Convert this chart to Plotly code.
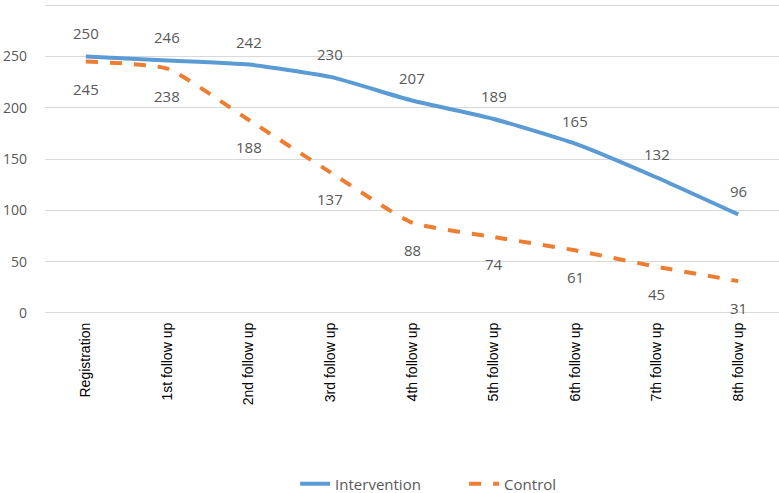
import plotly.graph_objects as go

categories = ["Registration", "1st follow up", "2nd follow up", "3rd follow up",
              "4th follow up", "5th follow up", "6th follow up", "7th follow up",
              "8th follow up"]
intervention = [250, 246, 242, 230, 207, 189, 165, 132, 96]
control = [245, 238, 188, 137, 88, 74, 61, 45, 31]
y_ticks = [0, 50, 100, 150, 200, 250, 300]

BLUE = "#5B9BD5"
ORANGE = "#ED7D31"
TXT = "#595959"
LBL_FONT = "Open Sans"

fig = go.Figure()
fig.add_trace(go.Scatter(
    x=categories, y=intervention, name="Intervention", mode="lines",
    line=dict(color=BLUE, width=4, shape="spline", smoothing=0.5),
))
fig.add_trace(go.Scatter(
    x=categories, y=control, name="Control", mode="lines",
    line=dict(color=ORANGE, width=4, dash="dash", shape="spline", smoothing=0.5),
))

# data labels: intervention above, control below
annots = []
for c, v in zip(categories, intervention):
    annots.append(dict(x=c, y=v, text=str(v), showarrow=False, yshift=23,
                       font=dict(family=LBL_FONT, size=15, color=TXT)))
for c, v in zip(categories, control):
    annots.append(dict(x=c, y=v, text=str(v), showarrow=False, yshift=-27,
                       font=dict(family=LBL_FONT, size=15, color=TXT)))

fig.update_layout(
    width=779, height=493,
    margin=dict(l=45, r=0, t=2, b=177, autoexpand=False),
    plot_bgcolor="white", paper_bgcolor="white",
    annotations=annots,
    showlegend=True,
    legend=dict(orientation="h", x=0.571, xanchor="center", y=-0.535, yanchor="middle",
                entrywidth=124,
                font=dict(family=LBL_FONT, size=15, color=TXT)),
    xaxis=dict(
        type="category", range=[-0.5, 8.5], tickangle=-90, showgrid=False,
        showline=False, zeroline=False, ticks="", ticklabelstandoff=3,
        tickfont=dict(family="Liberation Sans", size=14, color="black"),
    ),
    yaxis=dict(
        range=[-3, 303], tickvals=y_ticks, showgrid=True, gridcolor="#D9D9D9",
        gridwidth=1, zeroline=False, showline=False, ticks="",
        ticklabelstandoff=17,
        tickfont=dict(family=LBL_FONT, size=14, color=TXT),
    ),
)

# page body has a default 8px margin; drop it so the chart sits at (0,0)
fig.write_html("out.html", config={"displayModeBar": False},
               post_script=["document.body.style.margin='0';"])
